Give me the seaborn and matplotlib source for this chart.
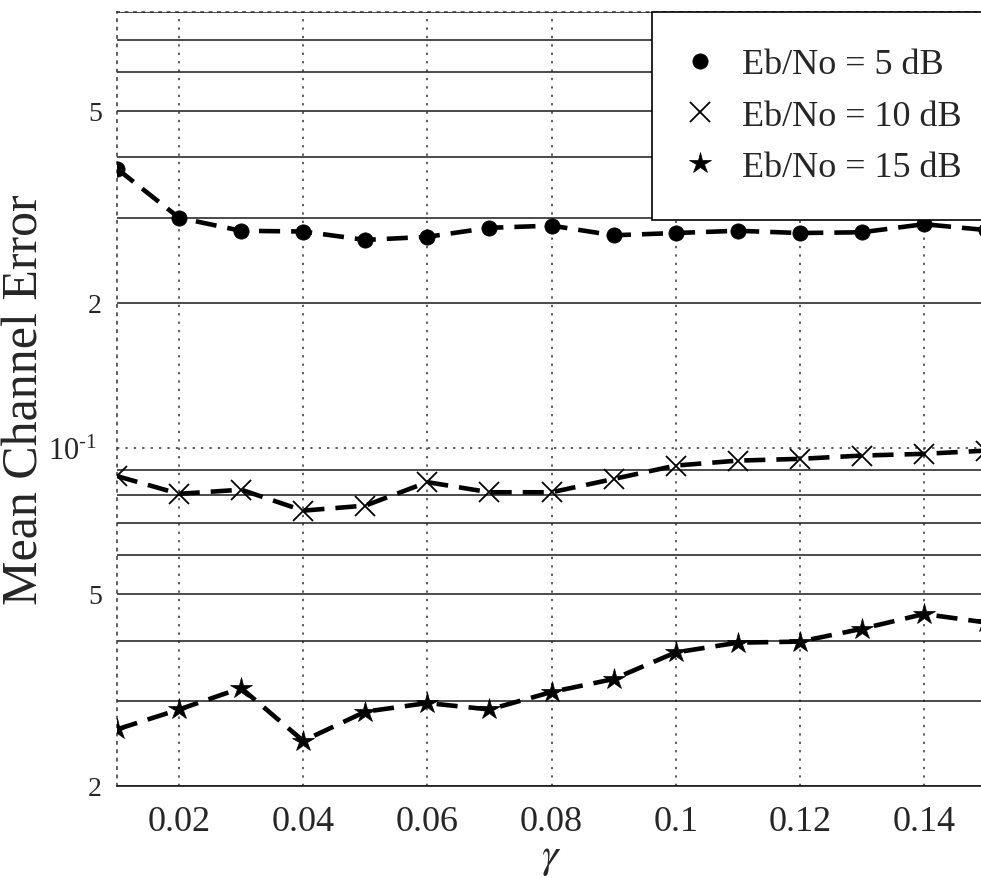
import numpy as np
import pandas as pd
import matplotlib
matplotlib.use("Agg")
import matplotlib.pyplot as plt
import seaborn as sns
from matplotlib.lines import Line2D
from matplotlib.ticker import FixedLocator, FixedFormatter

# ---------------- data ----------------
gamma = [0.01, 0.02, 0.03, 0.04, 0.05, 0.06, 0.07, 0.08,
         0.09, 0.10, 0.11, 0.12, 0.13, 0.14, 0.15]
err_5db = [0.379, 0.300, 0.282, 0.281, 0.270, 0.274, 0.286, 0.289,
           0.276, 0.279, 0.282, 0.279, 0.280, 0.291, 0.283]
err_10db = [0.0876, 0.0805, 0.0821, 0.0743, 0.0761, 0.0851, 0.0811, 0.0811,
            0.0864, 0.0921, 0.0943, 0.0951, 0.0966, 0.0974, 0.0989]
err_15db = [0.0262, 0.0288, 0.0319, 0.0248, 0.0285, 0.0297, 0.0288, 0.0313,
            0.0333, 0.0378, 0.0396, 0.0398, 0.0423, 0.0454, 0.0436]
series_labels = ["Eb/No = 5 dB", "Eb/No = 10 dB", "Eb/No = 15 dB"]

x_ticks = [0.02, 0.04, 0.06, 0.08, 0.10, 0.12, 0.14]
x_tick_labels = ["0.02", "0.04", "0.06", "0.08", "0.1", "0.12", "0.14"]
y_major = [0.1]
y_major_labels = [r"$\mathregular{10^{\text{-}1}}$"]
y_minor = [0.02, 0.03, 0.04, 0.05, 0.06, 0.07, 0.08, 0.09,
           0.2, 0.3, 0.4, 0.5, 0.6, 0.7, 0.8]
y_minor_labels = ["2", "", "", "5", "", "", "", "",
                  "2", "", "", "5", "", "", ""]
x_label = r"$\gamma$"
y_label = "Mean Channel Error"

df = pd.DataFrame({
    "gamma": gamma * 3,
    "error": err_5db + err_10db + err_15db,
    "series": [series_labels[0]] * len(gamma) + [series_labels[1]] * len(gamma)
              + [series_labels[2]] * len(gamma),
})

# ---------------- style ----------------
sns.set_theme(style="white")
plt.rcParams["font.family"] = ["Liberation Serif", "DejaVu Serif"]
plt.rcParams["mathtext.fontset"] = "stix"

fig = plt.figure(figsize=(9.81, 8.79), dpi=100)
ax = fig.add_axes([117 / 981, 1 - 787 / 879, (986 - 117) / 981, (787 - 13) / 879])

marker_specs = {
    series_labels[0]: dict(marker="o", markersize=11, markeredgewidth=0.5),
    series_labels[1]: dict(marker="x", markersize=15, markeredgewidth=1.3),
    series_labels[2]: dict(marker="*", markersize=16, markeredgewidth=0.5),
}

for lab in series_labels:
    sub = df[df["series"] == lab]
    sns.lineplot(data=sub, x="gamma", y="error", ax=ax, color="black",
                 linewidth=3.3, linestyle=(0, (4.6, 2.4)), errorbar=None,
                 legend=False, markeredgecolor="black", markerfacecolor="black",
                 zorder=5, **marker_specs[lab])

ax.set_yscale("log")
ax.set_xlim(0.01, 0.15)
ax.set_ylim(0.02, 0.8)

ax.xaxis.set_major_locator(FixedLocator(x_ticks))
ax.xaxis.set_major_formatter(FixedFormatter(x_tick_labels))
ax.yaxis.set_major_locator(FixedLocator(y_major))
ax.yaxis.set_major_formatter(FixedFormatter(y_major_labels))
ax.yaxis.set_minor_locator(FixedLocator(y_minor))
ax.yaxis.set_minor_formatter(FixedFormatter(y_minor_labels))

ax.tick_params(axis="x", which="both", length=0, labelsize=26, pad=14)
ax.tick_params(axis="y", which="major", length=0, labelsize=22, pad=14)
ax.tick_params(axis="y", which="minor", length=0, labelsize=20, pad=11)

dot = (0, (1.5, 4))
ax.set_axisbelow(True)
ax.grid(which="minor", axis="y", color="0.1", linewidth=1.1, linestyle="-")
ax.grid(which="major", axis="y", color="0.2", linewidth=1.1, linestyle=dot)
ax.grid(which="major", axis="x", color="0.2", linewidth=1.1, linestyle=dot)

for side in ["left", "top"]:
    ax.spines[side].set_linestyle(dot)
    ax.spines[side].set_color("0.2")
    ax.spines[side].set_linewidth(1.1)
ax.spines["right"].set_visible(False)
ax.spines["bottom"].set_color("0.1")
ax.spines["bottom"].set_linewidth(1.2)

ax.set_xlabel(x_label, fontsize=30, labelpad=0)
ax.set_ylabel(y_label, fontsize=36)
ax.yaxis.set_label_coords(-0.079, 0.5)

handles = []
for lab in series_labels:
    spec = dict(marker_specs[lab])
    handles.append(Line2D([], [], linestyle="none", color="black",
                          markerfacecolor="black", markeredgecolor="black", **spec))
leg = ax.legend(handles, series_labels, loc="upper left",
                bbox_to_anchor=(652 / 981, 1 - 13 / 879),
                bbox_transform=fig.transFigure, fontsize=26, frameon=True,
                fancybox=False, framealpha=1, edgecolor="black",
                borderpad=1.0, handlelength=0.67, handletextpad=0.83,
                labelspacing=0.5, borderaxespad=0)
leg.get_frame().set_linewidth(1.2)
leg.set_zorder(10)

fig.savefig("out.png", dpi=100)
